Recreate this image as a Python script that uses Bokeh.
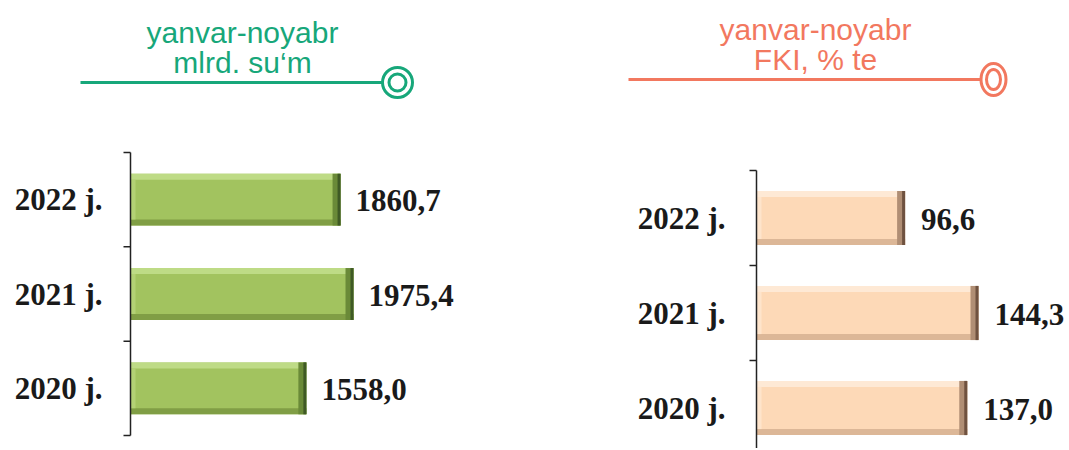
from bokeh.plotting import figure
from bokeh.models import Range1d
from bokeh.core.properties import value
from bokeh.embed import file_html
from bokeh.resources import INLINE

# ---- data ----
categories = ["2020 j.", "2021 j.", "2022 j."]
sum_values = [1558.0, 1975.4, 1860.7]
sum_labels = ["1558,0", "1975,4", "1860,7"]
fki_values = [137.0, 144.3, 96.6]
fki_labels = ["137,0", "144,3", "96,6"]
left_title = ["yanvar-noyabr", "mlrd. su‘m"]
right_title = ["yanvar-noyabr", "FKI, % te"]

# ---- layout constants ----
W, H = 1066, 448
GREEN = "#17a77a"
ORANGE = "#f2785f"


def lin_range(v0, p0, v1, p1, size):
    k = (v1 - v0) / (p1 - p0)
    start = v0 - p0 * k
    return Range1d(start=start, end=start + size * k), k


def ypx(ref):  # top-based pixel -> bottom-based frame pixel
    return H - ref


p = figure(width=W, height=H, x_range=Range1d(0, W), y_range=Range1d(H, 0),
           output_backend="svg", toolbar_location=None, min_border=0,
           x_axis_location=None, y_axis_location=None,
           outline_line_color=None, background_fill_color="white",
           border_fill_color="white")
p.grid.visible = False

lx, lkx = lin_range(0, 130, max(sum_values), 353, W)
ly, lky = lin_range(-0.5, ypx(435), 2.5, ypx(152), H)
rx, rkx = lin_range(0, 756, max(fki_values), 978, W)
ry, rky = lin_range(0.5, ypx(360), 2.5, ypx(170), H)
p.extra_x_ranges = {"lx": lx, "rx": rx}
p.extra_y_ranges = {"ly": ly, "ry": ry}


def panel(xn, yn, kx, ky, vals, labels, h, cols, lab_off, val_off):
    ys = list(range(len(vals)))
    kw = dict(x_range_name=xn, y_range_name=yn, line_color=None)
    main, top, bottom, left, right, edge = cols
    p.hbar(y=ys, left=0, right=vals, height=h, fill_color=main, **kw)
    t = 6 * ky
    p.hbar(y=[y + h / 2 - t / 2 for y in ys], left=0, right=vals, height=t, fill_color=top, **kw)
    p.hbar(y=[y - h / 2 + t / 2 for y in ys], left=0, right=vals, height=t, fill_color=bottom, **kw)
    p.hbar(y=ys, left=0, right=[5 * kx] * len(vals), height=h - 2 * t, fill_color=left, **kw)
    p.hbar(y=ys, left=[v - 8 * kx for v in vals], right=vals, height=h, fill_color=right, **kw)
    p.hbar(y=ys, left=[v - 3 * kx for v in vals], right=vals, height=h, fill_color=edge, **kw)
    # axis line and ticks
    n = len(vals)
    p.segment(x0=[0], y0=[-0.5], x1=[0], y1=[n - 0.5], line_color="#222222",
              line_width=1.5, x_range_name=xn, y_range_name=yn)
    tb = [i - 0.5 for i in range(n + 1)]
    p.segment(x0=[0] * len(tb), y0=tb, x1=[-7 * kx] * len(tb), y1=tb,
              line_color="#222222", line_width=1.5, x_range_name=xn, y_range_name=yn)
    p.text(x=[0] * n, y=ys, text=categories, x_offset=lab_off, text_align="right",
           text_baseline="middle", text_font=value("Liberation Serif"),
           text_font_style="bold", text_font_size="31px", text_color="#1a1a1a",
           x_range_name=xn, y_range_name=yn)
    p.text(x=vals, y=ys, text=labels, x_offset=val_off, y_offset=1, text_align="left",
           text_baseline="middle", text_font=value("Liberation Serif"),
           text_font_style="bold", text_font_size="31px", text_color="#1a1a1a",
           x_range_name=xn, y_range_name=yn)


panel("lx", "ly", lkx, lky, sum_values, sum_labels, 0.55,
      ("#a2c35f", "#bedb86", "#809e45", "#b3d175", "#6a8a38", "#3f5a25"), -28, 15)
panel("rx", "ry", rkx, rky, fki_values, fki_labels, 0.57,
      ("#fdd9b7", "#fee9d5", "#dcb797", "#fee4cb", "#b08e74", "#6f5240"), -31, 16)

# ---- headers (decoration in frame pixels) ----
p.text(x=[242, 242], y=[32, 62], text=left_title, text_align="center",
       text_baseline="alphabetic", text_font=value("Liberation Sans"),
       text_font_size="30px", text_color=GREEN)
p.segment(x0=[80], y0=[82], x1=[382], y1=[82], line_color=GREEN, line_width=3)
p.ellipse(x=[397, 397], y=[82, 82], width=[30, 17], height=[30, 17],
          fill_color=["white", None], line_color=GREEN, line_width=3)

p.text(x=[815, 815], y=[29, 59], text=right_title, text_align="center",
       text_baseline="alphabetic", text_font=value("Liberation Sans"),
       text_font_size="30px", text_color=ORANGE)
p.segment(x0=[628], y0=[79], x1=[981], y1=[79], line_color=ORANGE, line_width=3)
p.ellipse(x=[993, 993], y=[79, 79], width=[25, 14], height=[32, 20],
          fill_color=["white", None], line_color=ORANGE, line_width=3)

open("out.html", "w").write(file_html(p, INLINE))
